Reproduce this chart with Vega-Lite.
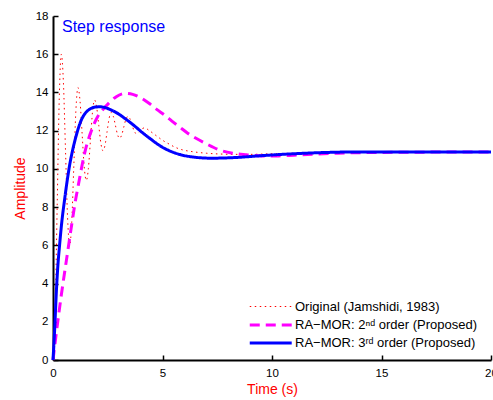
{
  "$schema": "https://vega.github.io/schema/vega-lite/v6.json",
  "width": 438,
  "height": 344,
  "autosize": {"type": "none"},
  "padding": {"left": 53, "top": 16, "right": 2, "bottom": 40},
  "background": "white",
  "title": {"text": "Step response", "anchor": "start", "frame": "group", "orient": "top", "offset": -25, "dx": 9, "fontSize": 16, "fontWeight": "normal", "color": "#0000ff", "font": "Liberation Sans"},
  "config": {
    "view": {"stroke": null},
    "font": "Liberation Sans",
    "axis": {"domainColor": "#000000", "domainWidth": 2, "tickColor": "#000000", "tickWidth": 1.5, "tickSize": -5, "labelColor": "#000000", "labelFontSize": 11.5, "labelFont": "Liberation Sans", "labelFlush": false, "labelOverlap": false, "grid": false, "titleColor": "#ff0000", "titleFontSize": 14, "titleFontWeight": "normal", "titleFont": "Liberation Sans"}
  },
  "data": {"values": [
    {"s":"A","t":0,"v":0},{"s":"A","t":0.095,"v":2.34},{"s":"A","t":0.19,"v":8.0},{"s":"A","t":0.285,"v":13.66},{"s":"A","t":0.38,"v":16.0},
    {"s":"A","t":0.475,"v":14.54},{"s":"A","t":0.57,"v":11.0},{"s":"A","t":0.665,"v":7.46},{"s":"A","t":0.76,"v":6.0},
    {"s":"A","t":0.855,"v":7.2},{"s":"A","t":0.95,"v":10.13},{"s":"A","t":1.045,"v":13.05},{"s":"A","t":1.14,"v":14.25},
    {"s":"A","t":1.235,"v":13.54},{"s":"A","t":1.33,"v":11.83},{"s":"A","t":1.425,"v":10.11},{"s":"A","t":1.52,"v":9.4},
    {"s":"A","t":1.615,"v":10.01},{"s":"A","t":1.71,"v":11.5},{"s":"A","t":1.805,"v":12.99},{"s":"A","t":1.9,"v":13.6},
    {"s":"A","t":1.995,"v":13.21},{"s":"A","t":2.09,"v":12.28},{"s":"A","t":2.185,"v":11.34},{"s":"A","t":2.28,"v":10.95},
    {"s":"A","t":2.375,"v":11.24},{"s":"A","t":2.47,"v":11.95},{"s":"A","t":2.565,"v":12.66},{"s":"A","t":2.66,"v":12.95},
    {"s":"A","t":2.755,"v":12.75},{"s":"A","t":2.85,"v":12.28},{"s":"A","t":2.945,"v":11.8},{"s":"A","t":3.04,"v":11.6},
    {"s":"A","t":3.135,"v":11.77},{"s":"A","t":3.23,"v":12.18},{"s":"A","t":3.325,"v":12.58},{"s":"A","t":3.42,"v":12.75},
    {"s":"A","t":3.515,"v":12.62},{"s":"A","t":3.61,"v":12.3},{"s":"A","t":3.705,"v":11.98},{"s":"A","t":3.8,"v":11.85},
    {"s":"A","t":3.895,"v":11.89},{"s":"A","t":3.99,"v":12.0},{"s":"A","t":4.085,"v":12.11},{"s":"A","t":4.18,"v":12.15},
    {"s":"A","t":4.4,"v":12.0},{"s":"A","t":4.7,"v":11.75},{"s":"A","t":5.0,"v":11.5},{"s":"A","t":5.3,"v":11.3},
    {"s":"A","t":5.6,"v":11.12},{"s":"A","t":5.9,"v":11.0},{"s":"A","t":6.2,"v":10.93},{"s":"A","t":6.5,"v":10.88},
    {"s":"A","t":7.0,"v":10.82},{"s":"A","t":7.6,"v":10.78},{"s":"A","t":8.2,"v":10.76},{"s":"A","t":9.0,"v":10.76},
    {"s":"A","t":10,"v":10.79},{"s":"A","t":11,"v":10.82},{"s":"A","t":12,"v":10.85},{"s":"A","t":13,"v":10.87},
    {"s":"A","t":14,"v":10.88},{"s":"A","t":16,"v":10.88},{"s":"A","t":18,"v":10.88},{"s":"A","t":20,"v":10.88},
    {"s":"B","t":0,"v":0},{"s":"B","t":0.15,"v":1.4},{"s":"B","t":0.38,"v":3.4},{"s":"B","t":0.61,"v":5.2},
    {"s":"B","t":0.83,"v":6.9},{"s":"B","t":1.05,"v":8.5},{"s":"B","t":1.14,"v":9.05},{"s":"B","t":1.44,"v":10.8},
    {"s":"B","t":1.82,"v":12.2},{"s":"B","t":2.05,"v":12.75},{"s":"B","t":2.28,"v":13.1},{"s":"B","t":2.6,"v":13.5},
    {"s":"B","t":2.89,"v":13.78},{"s":"B","t":3.3,"v":13.95},{"s":"B","t":3.64,"v":13.9},{"s":"B","t":4.0,"v":13.72},
    {"s":"B","t":4.4,"v":13.42},{"s":"B","t":4.75,"v":13.1},{"s":"B","t":5.09,"v":12.82},{"s":"B","t":5.43,"v":12.5},
    {"s":"B","t":5.77,"v":12.2},{"s":"B","t":6.15,"v":11.87},{"s":"B","t":6.53,"v":11.6},{"s":"B","t":6.99,"v":11.32},
    {"s":"B","t":7.6,"v":10.99},{"s":"B","t":8.2,"v":10.82},{"s":"B","t":8.8,"v":10.74},{"s":"B","t":9.57,"v":10.68},
    {"s":"B","t":10.3,"v":10.68},{"s":"B","t":11.0,"v":10.72},{"s":"B","t":11.85,"v":10.77},{"s":"B","t":13,"v":10.82},
    {"s":"B","t":14.1,"v":10.85},{"s":"B","t":16,"v":10.87},{"s":"B","t":18,"v":10.88},{"s":"B","t":20,"v":10.88},
    {"s":"C","t":0,"v":0},{"s":"C","t":0.04,"v":0.8},{"s":"C","t":0.08,"v":1.7},{"s":"C","t":0.15,"v":3.5},
    {"s":"C","t":0.22,"v":4.9},{"s":"C","t":0.3,"v":6.0},{"s":"C","t":0.4,"v":7.2},{"s":"C","t":0.53,"v":8.4},
    {"s":"C","t":0.65,"v":9.4},{"s":"C","t":0.76,"v":10.2},{"s":"C","t":0.9,"v":11.0},{"s":"C","t":1.05,"v":11.7},
    {"s":"C","t":1.29,"v":12.55},{"s":"C","t":1.5,"v":12.95},{"s":"C","t":1.67,"v":13.12},{"s":"C","t":1.9,"v":13.23},
    {"s":"C","t":2.13,"v":13.25},{"s":"C","t":2.4,"v":13.2},{"s":"C","t":2.66,"v":13.08},{"s":"C","t":3.0,"v":12.87},
    {"s":"C","t":3.27,"v":12.65},{"s":"C","t":3.72,"v":12.25},{"s":"C","t":4.1,"v":11.88},{"s":"C","t":4.44,"v":11.58},
    {"s":"C","t":4.9,"v":11.2},{"s":"C","t":5.35,"v":10.93},{"s":"C","t":5.8,"v":10.75},{"s":"C","t":6.27,"v":10.64},
    {"s":"C","t":6.75,"v":10.58},{"s":"C","t":7.2,"v":10.56},{"s":"C","t":7.8,"v":10.57},{"s":"C","t":8.4,"v":10.6},
    {"s":"C","t":9.5,"v":10.69},{"s":"C","t":10.3,"v":10.75},{"s":"C","t":11.15,"v":10.8},{"s":"C","t":12.5,"v":10.86},
    {"s":"C","t":14.2,"v":10.89},{"s":"C","t":16,"v":10.89},{"s":"C","t":18,"v":10.88},{"s":"C","t":20,"v":10.88}
  ]},
  "mark": {"type": "line", "interpolate": "monotone"},
  "encoding": {
    "x": {"field": "t", "type": "quantitative", "scale": {"domain": [0, 20], "nice": false, "zero": false},
      "axis": {"values": [0, 5, 10, 15, 20], "labelPadding": 12, "title": "Time (s)", "titlePadding": 4}},
    "y": {"field": "v", "type": "quantitative", "scale": {"domain": [0, 18], "nice": false, "zero": false},
      "axis": {"values": [0, 2, 4, 6, 8, 10, 12, 14, 16, 18], "labelPadding": 10, "title": "Amplitude", "titlePadding": 8}},
    "color": {"field": "s", "type": "nominal",
      "scale": {"domain": ["A", "B", "C"], "range": ["#ff0000", "#ff00ff", "#0000ff"]},
      "legend": {"title": null, "orient": "none", "legendX": 195, "legendY": 284, "padding": 0,
        "symbolType": "M-1,0H7", "symbolSize": 110, "labelFontSize": 13, "labelColor": "#000000", "labelFont": "Liberation Sans",
        "labelOffset": 33, "rowPadding": 4, "labelLimit": 400,
        "labelExpr": "datum.label == 'A' ? 'Original (Jamshidi, 1983)' : datum.label == 'B' ? 'RA−MOR: 2ⁿᵈ order (Proposed)' : 'RA−MOR: 3ʳᵈ order (Proposed)'"}},
    "strokeDash": {"field": "s", "type": "nominal",
      "scale": {"domain": ["A", "B", "C"], "range": [[1.5, 3.5], [10, 6], [1, 0]]}},
    "strokeWidth": {"field": "s", "type": "nominal",
      "scale": {"type": "ordinal", "domain": ["A", "B", "C"], "range": [1, 3, 3]}}
  }
}
